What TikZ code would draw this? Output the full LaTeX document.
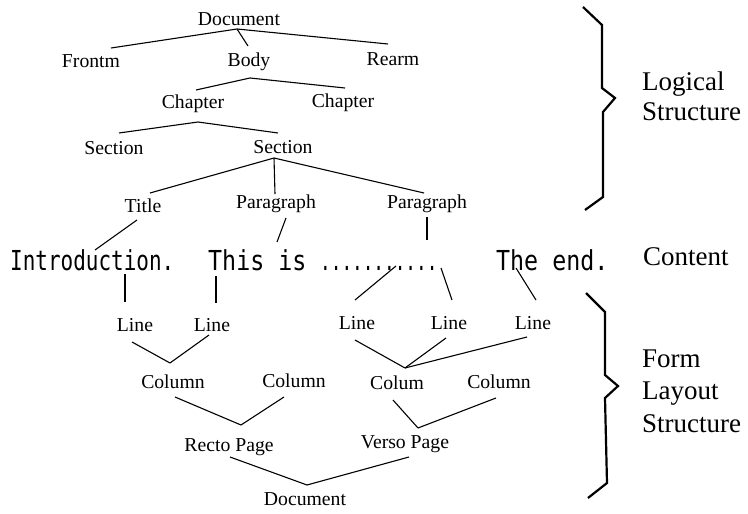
\documentclass[tikz,border=0pt]{standalone}
\usepackage{fontspec}
\setmainfont{Liberation Serif}
\newfontfamily\contentfont{DejaVu Sans Mono}
\begin{document}
\begin{tikzpicture}[x=1pt,y=-1pt,
  lbl/.style={font=\fontsize{19.7}{22}\selectfont, inner sep=0pt, anchor=base},
  side/.style={font=\fontsize{27}{30}\selectfont, inner sep=0pt, anchor=base west},
  link/.style={line width=1.1pt},
  brace/.style={line width=2.2pt, line join=miter}]
\useasboundingbox (0,0) rectangle (748,514);

% logical structure tree
\node[lbl] (docT)  at (239,25)  {Document};
\node[lbl] (front) at (91,67)   {Frontm};
\node[lbl] (body)  at (249,66)  {Body};
\node[lbl] (rear)  at (393,65)  {Rearm};
\node[lbl] (chapA) at (193,108) {Chapter};
\node[lbl] (chapB) at (343,107) {Chapter};
\node[lbl] (secA)  at (114,154) {Section};
\node[lbl] (secB)  at (283,153) {Section};
\node[lbl] (title) at (143,212) {Title};
\node[lbl] (paraA) at (276,208) {Paragraph};
\node[lbl] (paraB) at (427,208) {Paragraph};

% content line, set in a narrow typewriter face
\node[inner sep=0pt, anchor=base west] (content) at (10,270)
  {\scalebox{1}[1.18]{\contentfont\fontsize{23.3}{26}\selectfont
   \makebox[198pt][l]{\scalebox{0.9}[1]{Introduction.}}%
   \makebox[112pt][l]{This is}%
   \makebox[176pt][l]{\scalebox{0.76}[1]{...........}}%
   The end.}};

% layout structure tree
\node[lbl] (lineA) at (135,331) {Line};
\node[lbl] (lineB) at (212,331) {Line};
\node[lbl] (lineC) at (357,329) {Line};
\node[lbl] (lineD) at (449,329) {Line};
\node[lbl] (lineE) at (533,329) {Line};
\node[lbl] (colA)  at (173,388) {Column};
\node[lbl] (colB)  at (294,387) {Column};
\node[lbl] (colC)  at (397,389) {Colum};
\node[lbl] (colD)  at (499,388) {Column};
\node[lbl] (recto) at (229,451) {Recto Page};
\node[lbl] (verso) at (405,448) {Verso Page};
\node[lbl] (docB)  at (305,505) {Document};

% side labels
\node[side] (logA) at (642,90)  {Logical};
\node[side] (logB) at (642,120) {Structure};
\node[side] (cont) at (643,265) {Content};
\node[side] (layA) at (642,367) {Form};
\node[side] (layB) at (642,399) {Layout};
\node[side] (layC) at (642,432) {Structure};

% upper tree links
\draw[link] ([shift={(-2,4)}]docT.base) -- ([shift={(20,-19)}]front.base);
\draw[link] ([shift={(-2,4)}]docT.base) -- ([shift={(-1,-20)}]body.base);
\draw[link] ([shift={(-2,4)}]docT.base) -- ([shift={(-5,-21)}]rear.base);
\draw[link] ([shift={(1,12)}]body.base) -- ([shift={(3,-18)}]chapA.base);
\draw[link] ([shift={(1,12)}]body.base) -- ([shift={(2,-19)}]chapB.base);
\draw[link] ([shift={(5,14)}]chapA.base) -- ([shift={(5,-21)}]secA.base);
\draw[link] ([shift={(5,14)}]chapA.base) -- ([shift={(-5,-20)}]secB.base);
\draw[link] ([shift={(-9,5)}]secB.base) -- ([shift={(7,-19)}]title.base);
\draw[link] ([shift={(-9,5)}]secB.base) -- ([shift={(-1,-14)}]paraA.base);
\draw[link] ([shift={(-9,5)}]secB.base) -- ([shift={(-3,-15)}]paraB.base);

% links into the content line
\draw[link] ([shift={(-6,8)}]title.base) -- ([shift={(85,-20)}]content.base west);
\draw[link] ([shift={(10,10)}]paraA.base) -- ([shift={(267,-28)}]content.base west);
\draw[link] ([shift={(0,9)}]paraB.base) -- ([shift={(417,-30)}]content.base west);
\draw[link] ([shift={(115,4)}]content.base west) -- ([shift={(-10,-29)}]lineA.base);
\draw[link] ([shift={(206,6)}]content.base west) -- ([shift={(4,-28)}]lineB.base);
\draw[link] ([shift={(386,-4)}]content.base west) -- ([shift={(-2,-29)}]lineC.base);
\draw[link] ([shift={(431,-2)}]content.base west) -- ([shift={(3,-29)}]lineD.base);
\draw[link] ([shift={(506,-2)}]content.base west) -- ([shift={(3,-29)}]lineE.base);

% lower tree links
\draw[link] ([shift={(-3,11)}]lineA.base) -- ([shift={(-3,-25)}]colA.base);
\draw[link] ([shift={(-3,4)}]lineB.base) -- ([shift={(-3,-25)}]colA.base);
\draw[link] ([shift={(-2,11)}]lineC.base) -- ([shift={(8,-21)}]colC.base);
\draw[link] ([shift={(-3,9)}]lineD.base) -- ([shift={(8,-21)}]colC.base);
\draw[link] ([shift={(-6,8)}]lineE.base) -- ([shift={(8,-21)}]colC.base);
\draw[link] ([shift={(2,9)}]colA.base) -- ([shift={(12,-26)}]recto.base);
\draw[link] ([shift={(-10,10)}]colB.base) -- ([shift={(12,-26)}]recto.base);
\draw[link] ([shift={(-4,11)}]colC.base) -- ([shift={(13,-20)}]verso.base);
\draw[link] ([shift={(-3,10)}]colD.base) -- ([shift={(13,-20)}]verso.base);
\draw[link] ([shift={(1,6)}]recto.base) -- ([shift={(2,-20)}]docB.base);
\draw[link] ([shift={(4,9)}]verso.base) -- ([shift={(2,-20)}]docB.base);

% braces
\draw[brace] (583,7) -- (602,25) -- (602,88) -- (615,98) -- (603,112) -- (603,197) -- (585,210);
\draw[brace] (586,293) -- (605,312) -- (605,375) -- (618,386) -- (605,398) -- (607,483) -- (588,498);
\end{tikzpicture}
\end{document}
